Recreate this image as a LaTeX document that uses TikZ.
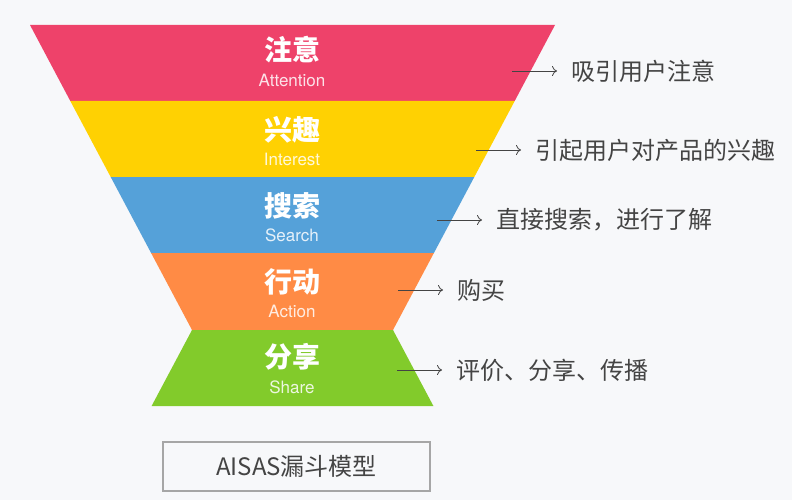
\documentclass[tikz,border=0pt]{standalone}
\usepackage{fontspec}
\setmainfont{TeX Gyre Heros}
\newfontfamily\cjk{Noto Sans CJK SC}
\usetikzlibrary{arrows.meta}
\definecolor{paper}{HTML}{F7F8FA}
\definecolor{attn}{HTML}{EE426A}
\definecolor{intr}{HTML}{FFD102}
\definecolor{srch}{HTML}{55A1D9}
\definecolor{actn}{HTML}{FF8B45}
\definecolor{shar}{HTML}{82CB2B}
\definecolor{darktxt}{HTML}{444444}
\begin{document}
\begin{tikzpicture}[x=1pt, y=-1pt,
    head/.style={text=white, font=\cjk\bfseries\fontsize{28}{28}\selectfont},
    sub/.style={text=white, text opacity=.85, font=\fontsize{17}{17}\selectfont},
    note/.style={anchor=west, inner xsep=14pt, text=darktxt, font=\cjk\fontsize{24}{24}\selectfont},
    arr/.style={-{To[length=5pt,width=10pt]}, draw=darktxt, line width=.8pt}]
\fill[paper] (0,0) rectangle (792,500);
\useasboundingbox (0,0) rectangle (792,500);
% funnel bands
\fill[attn] (30,25) -- (555,25) -- (514.7,101) -- (70.3,101) -- cycle;
\fill[intr] (70.3,101) -- (514.7,101) -- (474.3,177) -- (110.7,177) -- cycle;
\fill[srch] (110.7,177) -- (474.3,177) -- (433.9,253) -- (151.1,253) -- cycle;
\fill[actn] (151.1,253) -- (433.9,253) -- (393,330) -- (192,330) -- cycle;
\fill[shar] (192,330) -- (393,330) -- (433.4,406) -- (151.6,406) -- cycle;
% band titles
\node[head] (h1) at (292,50) {注意};
\node[sub] (s1) at (292,80) {Attention};
\node[head] (h2) at (292,130) {兴趣};
\node[sub] (s2) at (292,159) {Interest};
\node[head] (h3) at (292,206) {搜索};
\node[sub] (s3) at (292,235) {Search};
\node[head] (h4) at (292,282) {行动};
\node[sub] (s4) at (292,311) {Action};
\node[head] (h5) at (292,357) {分享};
\node[sub] (s5) at (292,387) {Share};
% notes on the right
\coordinate (a1) at (512,71);
\coordinate (a2) at (476,150);
\coordinate (a3) at (437,220);
\coordinate (a4) at (398,290);
\coordinate (a5) at (397,370);
\node[note] (n1) at (557,71) {吸引用户注意};
\node[note] (n2) at (521,150) {引起用户对产品的兴趣};
\node[note] (n3) at (482,220) {直接搜索，进行了解};
\node[note] (n4) at (443,290) {购买};
\node[note] (n5) at (442,370) {评价、分享、传播};
\draw[arr] (a1) -- (n1.west);
\draw[arr] (a2) -- (n2.west);
\draw[arr] (a3) -- (n3.west);
\draw[arr] (a4) -- (n4.west);
\draw[arr] (a5) -- (n5.west);
% caption box
\node[draw=gray!70, line width=1.2pt, fill=paper, minimum width=267pt, minimum height=49pt,
      text=darktxt, font=\cjk\fontsize{24}{24}\selectfont] (cap) at (296.5,466.5) {AISAS漏斗模型};
\end{tikzpicture}
\end{document}
